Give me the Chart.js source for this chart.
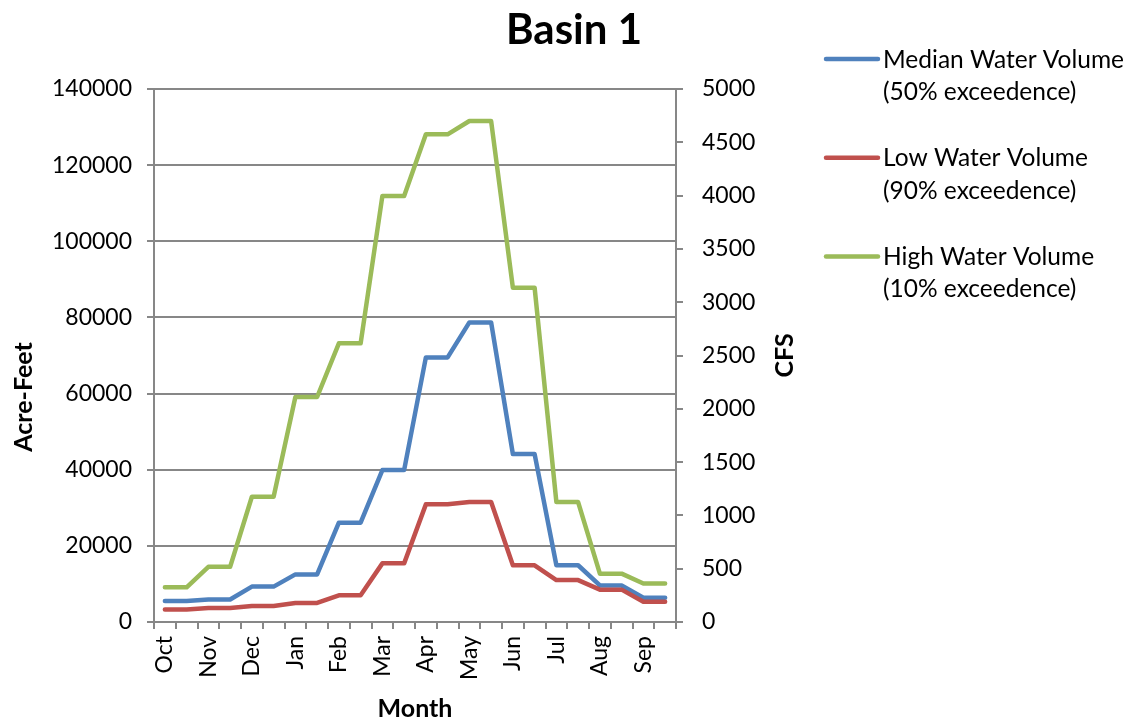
<!DOCTYPE html>
<html>
<head>
<meta charset="utf-8">
<title>Basin 1</title>
<script src="https://cdn.jsdelivr.net/npm/chart.js@4.4.1/dist/chart.umd.min.js"></script>
<style>
  html, body { margin: 0; padding: 0; background: #fff; }
  #wrap { width: 1133px; height: 724px; position: relative; }
</style>
</head>
<body>
<div id="wrap"><canvas id="basinChart"></canvas></div>
<script>
// monthly volumes in acre-feet
const months = ['Oct', 'Nov', 'Dec', 'Jan', 'Feb', 'Mar', 'Apr', 'May', 'Jun', 'Jul', 'Aug', 'Sep'];
const medianVolume = [5500, 5900, 9300, 12500, 26100, 39900, 69500, 78700, 44100, 14900, 9600, 6400];
const lowVolume = [3300, 3700, 4200, 5000, 7000, 15400, 30900, 31500, 14900, 11000, 8500, 5300];
const highVolume = [9100, 14500, 32900, 59100, 73200, 111900, 128100, 131600, 87800, 31500, 12700, 10100];
const seriesLabels = [
    ['Median Water Volume', '(50% exceedence)'],
    ['Low Water Volume', '(90% exceedence)'],
    ['High Water Volume', '(10% exceedence)']
];
const seriesColors = ['#4F81BD', '#C0504D', '#9BBB59'];

const GRID = '#878787';
const FONT = 'Lato';

// each month is drawn as a flat segment: two slots per month
const twice = arr => arr.flatMap(v => [v, v]);
const slotLabels = months.flatMap(m => [m, '']);

// title, the two vertical axis titles and the two-line legend
const extras = {
    id: 'extras',
    afterDraw(chart) {
        const ctx = chart.ctx;
        const area = chart.chartArea;
        ctx.save();
        ctx.fillStyle = '#000';
        ctx.font = `bold 42px ${FONT}`;
        ctx.textAlign = 'center';
        ctx.textBaseline = 'alphabetic';
        ctx.fillText('Basin 1', 574, 44);

        ctx.font = `bold 25px ${FONT}`;
        ctx.textBaseline = 'middle';
        ctx.save();
        ctx.translate(24, 397);
        ctx.rotate(-Math.PI / 2);
        ctx.fillText('Acre-Feet', 0, 0);
        ctx.restore();

        ctx.save();
        ctx.translate(area.right + 109, (area.top + area.bottom) / 2);
        ctx.rotate(-Math.PI / 2);
        ctx.fillText('CFS', 0, 0);
        ctx.restore();

        ctx.font = `24.5px ${FONT}`;
        ctx.textAlign = 'left';
        ctx.textBaseline = 'alphabetic';
        ctx.lineWidth = 4.5;
        ctx.lineCap = 'round';
        chart.data.datasets.forEach((ds, i) => {
            const y = 59 + i * 98.7;
            ctx.strokeStyle = ds.borderColor;
            ctx.beginPath();
            ctx.moveTo(826, y);
            ctx.lineTo(878, y);
            ctx.stroke();
            ctx.fillText(seriesLabels[i][0], 883, y + 8.5);
            ctx.fillText(seriesLabels[i][1], 883, y + 41);
        });
        ctx.restore();
    }
};

const makeSet = (name, values, color, order) => ({
    label: name,
    data: twice(values),
    borderColor: color,
    backgroundColor: color,
    borderWidth: 4.5,
    borderJoinStyle: 'round',
    borderCapStyle: 'round',
    pointRadius: 0,
    tension: 0,
    order: order,
    yAxisID: 'y'
});

const plain = v => String(v);

const ctx = document.getElementById('basinChart').getContext('2d');
new Chart(ctx, {
    type: 'line',
    data: {
        labels: slotLabels,
        datasets: [
            makeSet(seriesLabels[0].join(' '), medianVolume, seriesColors[0], 3),
            makeSet(seriesLabels[1].join(' '), lowVolume, seriesColors[1], 2),
            makeSet(seriesLabels[2].join(' '), highVolume, seriesColors[2], 1)
        ]
    },
    options: {
        responsive: true,
        maintainAspectRatio: false,
        animation: false,
        layout: { padding: { left: 0, top: 89, right: 347, bottom: 0 } },
        plugins: {
            legend: { display: false },
            title: { display: false },
            tooltip: { enabled: false }
        },
        scales: {
            x: {
                type: 'category',
                offset: true,
                afterFit: s => { s.height = 102; },
                grid: { offset: true, drawOnChartArea: false, drawTicks: true, tickLength: 7, color: GRID, lineWidth: 2 },
                border: { color: GRID, width: 2 },
                ticks: {
                    autoSkip: false, minRotation: 90, maxRotation: 90, padding: 7,
                    color: '#000', font: { family: FONT, size: 23 }
                },
                title: {
                    display: true, text: 'Month', color: '#000',
                    font: { family: FONT, size: 25, weight: 'bold' },
                    padding: { top: 0, bottom: 0 }
                }
            },
            y: {
                position: 'left',
                min: 0, max: 140000,
                afterFit: s => { s.width = 154; },
                grid: { color: GRID, lineWidth: 2, tickLength: 7 },
                border: { color: GRID, width: 2 },
                ticks: {
                    stepSize: 20000, padding: 15, callback: plain,
                    color: '#000', font: { family: FONT, size: 23 }
                }
            },
            y1: {
                position: 'right',
                min: 0, max: 5000,
                afterFit: s => { s.width = 110; },
                grid: { drawOnChartArea: false, color: GRID, lineWidth: 2, tickLength: 7 },
                border: { color: GRID, width: 2 },
                ticks: {
                    stepSize: 500, padding: 19, callback: plain,
                    color: '#000', font: { family: FONT, size: 23 }
                }
            }
        }
    },
    plugins: [extras]
});
</script>
</body>
</html>
